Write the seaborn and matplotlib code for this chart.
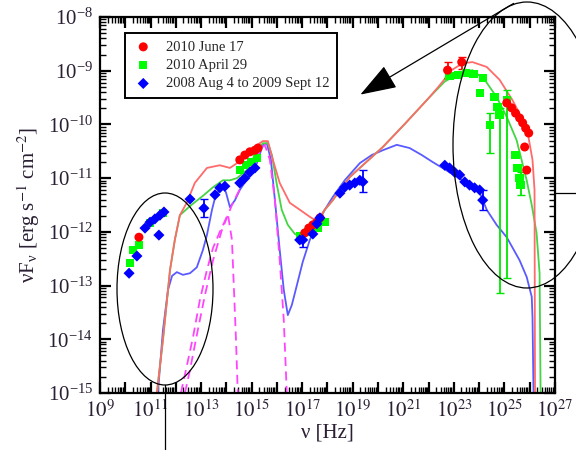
import numpy as np
import pandas as pd
import matplotlib
matplotlib.use("Agg")
import matplotlib.pyplot as plt
import matplotlib.ticker as mticker
from matplotlib.patches import Ellipse, FancyArrowPatch
from matplotlib.lines import Line2D
from matplotlib.transforms import IdentityTransform
import seaborn as sns

# data, in log10(nu [Hz]) and log10(nuFnu [erg/s/cm2])
red_x = [10.54, 14.53, 14.73, 14.93, 15.13, 15.25, 17.10, 17.26, 17.42, 17.58, 17.70,
         22.75, 23.31, 25.09, 25.28, 25.44, 25.60, 25.72, 25.84, 25.96, 25.80, 25.88]
red_y = [-12.10, -10.66, -10.57, -10.51, -10.48, -10.44, -12.02, -11.93, -11.87, -11.82, -11.74,
         -8.99, -8.84, -9.60, -9.69, -9.79, -9.88, -9.97, -10.07, -10.16, -10.42, -10.85]

green_x = [10.19, 10.30, 10.54, 10.98, 11.49, 14.53, 14.77, 15.00, 15.20,
           16.90, 17.22, 17.62, 17.89,
           22.82, 23.15, 23.47, 23.78, 24.14, 24.02, 24.61, 24.73, 24.42, 24.81, 25.09,
           25.44, 25.52, 25.60, 25.64]
green_y = [-12.58, -12.34, -12.25, -11.84, -11.65, -10.85, -10.76, -10.70, -10.63,
           -12.08, -12.00, -11.93, -11.82,
           -9.10, -9.08, -9.04, -9.06, -9.14, -9.42, -9.49, -9.68, -10.01, -9.82, -9.55,
           -10.57, -10.81, -11.00, -11.13]

blue_x = [10.15, 10.46, 10.78, 10.98, 11.17, 11.37, 11.53, 11.33, 12.56, 13.11,
          13.55, 13.74, 13.94, 14.53, 14.73, 14.93, 15.13,
          16.90, 17.02, 17.42, 17.58, 17.70, 18.49, 18.68, 18.88, 19.08, 19.28, 19.40,
          22.64, 22.83, 23.03, 23.23, 23.43, 23.62, 23.82, 24.02, 24.14]
blue_y = [-12.77, -12.45, -11.93, -11.82, -11.76, -11.69, -11.63, -12.06, -11.39, -11.56,
          -11.31, -11.18, -11.15, -11.09, -11.00, -10.89, -10.81,
          -12.15, -12.15, -12.04, -11.85, -11.74, -11.28, -11.17, -11.13, -11.09, -11.04, -11.07,
          -10.76, -10.81, -10.89, -10.94, -11.07, -11.13, -11.18, -11.22, -11.41]

# error bars: x, y, low, high
red_err_x = [22.75, 23.31]
red_err_y = [-8.99, -8.84]
red_err_lo = [-9.14, -8.97]
red_err_hi = [-8.84, -8.75]

green_err_x = [24.42, 24.81, 25.09, 25.64]
green_err_y = [-10.01, -9.82, -9.55, -11.13]
green_err_lo = [-10.53, -13.14, -12.86, -11.31]
green_err_hi = [-9.79, -9.69, -9.36, -10.89]

blue_err_x = [13.11, 19.40, 17.02, 24.14]
blue_err_y = [-11.56, -11.07, -12.15, -11.41]
blue_err_lo = [-11.72, -11.26, -12.28, -11.59]
blue_err_hi = [-11.39, -10.85, -12.02, -11.22]

# model curves
green_cx = [11.25, 11.49, 11.77, 11.96, 12.16, 12.56, 13.07, 13.47, 13.86, 14.14, 14.42, 14.81,
            15.13, 15.44, 15.64, 15.80, 16.00, 16.19, 16.43, 16.71, 16.98, 17.30, 17.58, 17.89,
            18.21, 18.88, 20.19, 21.06, 22.04, 22.64, 23.35, 23.74, 24.22, 24.69, 25.09, 25.48,
            25.88, 26.08, 26.27, 26.39, 26.43]
green_cy = [-15.0, -14.01, -12.71, -12.15, -11.69, -11.52, -11.33, -11.17, -11.04, -11.04, -11.00, -10.85,
            -10.57, -10.35, -10.35, -10.57, -11.13, -11.59, -11.87, -12.04, -12.10, -12.02, -11.84, -11.59,
            -11.41, -10.98, -10.42, -9.99, -9.49, -9.20, -9.02, -8.99, -9.17, -9.49, -9.86, -10.29,
            -11.04, -11.50, -12.02, -12.77, -15.0]

red_cx = [11.25, 11.49, 11.77, 11.96, 12.16, 12.44, 12.75, 13.23, 13.74, 14.14, 14.61, 15.05,
          15.44, 15.64, 15.84, 16.11, 16.51, 16.91, 17.30, 17.58, 17.89, 18.21, 18.88, 20.19,
          21.06, 22.04, 22.44, 22.91, 23.35, 23.74, 24.30, 24.81, 25.32, 25.88, 26.11, 26.19, 26.21]
red_cy = [-15.0, -14.01, -12.71, -12.15, -11.69, -11.45, -11.09, -10.81, -10.76, -10.81, -10.66, -10.44,
          -10.31, -10.31, -10.66, -11.09, -11.46, -11.59, -11.72, -11.80, -11.59, -11.41, -10.98, -10.42,
          -9.99, -9.49, -9.27, -8.99, -8.86, -8.84, -8.93, -9.17, -9.55, -10.05, -10.66, -11.22, -15.0]

blue_cx = [11.29, 11.49, 11.69, 11.85, 12.04, 12.28, 12.56, 12.83, 13.07, 13.23, 13.43, 13.58,
           13.82, 13.98, 14.14, 14.34, 14.53, 14.93, 15.21, 15.44, 15.60, 15.76, 15.92, 16.11,
           16.27, 16.43, 16.59, 16.79, 17.02, 17.30, 17.58, 17.89, 18.21, 18.68, 19.28, 19.75,
           20.19, 20.74, 21.25, 21.73, 22.16, 22.83, 23.43, 24.02, 24.30, 24.69, 25.09, 25.60,
           25.88, 26.08, 26.11, 26.15]
blue_cy = [-15.0, -13.83, -13.08, -12.82, -12.75, -12.80, -12.77, -12.66, -12.34, -12.06, -11.59, -11.31,
           -11.17, -11.26, -11.54, -11.41, -11.22, -10.94, -10.72, -10.38, -10.35, -10.66, -11.41, -12.34,
           -13.08, -13.55, -13.36, -12.99, -12.56, -12.15, -11.87, -11.59, -11.35, -11.04, -10.72, -10.57,
           -10.48, -10.38, -10.44, -10.57, -10.70, -10.89, -11.07, -11.27, -11.59, -11.87, -12.10, -12.53,
           -12.84, -13.21, -13.59, -15.0]

# thermal components (dashed)
torus_x = [12.20, 12.40, 12.68, 12.95, 13.23, 13.47, 13.74, 13.94, 14.06, 14.22, 14.30, 14.38, 14.45]
torus_y = [-15.0, -14.57, -13.96, -13.27, -12.71, -12.30, -12.00, -11.80, -11.67, -12.15, -13.08, -14.01, -15.0]
disk_x = [12.36, 12.56, 12.83, 13.15, 13.47, 13.82, 14.22, 14.61, 15.01, 15.32, 15.52, 15.72,
          15.92, 16.11, 16.27, 16.39]
disk_y = [-15.0, -14.57, -13.92, -13.18, -12.53, -11.97, -11.50, -11.13, -10.76, -10.48, -10.38, -10.66,
          -11.41, -12.53, -13.64, -15.0]

labels = ["2010 June 17", "2010 April 29", "2008 Aug 4 to 2009 Sept 12"]
decades_x = list(range(9, 28))


def lin(v):
    return 10 ** np.asarray(v)


sns.set_style("ticks")
plt.rcParams["font.family"] = ["Liberation Serif", "DejaVu Serif"]
plt.rcParams["mathtext.fontset"] = "stix"

fig = plt.figure(figsize=(5.76, 4.5), dpi=100)
ax = fig.add_axes([100 / 576, 1 - 393 / 450, 455 / 576, 376 / 450])

# model curves
for cx, cy, col in [(blue_cx, blue_cy, "#5a5aff"), (green_cx, green_cy, "#44d444"),
                    (red_cx, red_cy, "#ff6a6a")]:
    sns.lineplot(x=lin(cx), y=lin(cy), sort=False, estimator=None, color=col, lw=1.3, ax=ax,
                 zorder=2)
for cx, cy in [(torus_x, torus_y), (disk_x, disk_y)]:
    ax.plot(lin(cx), lin(cy), color="#ff44ff", lw=1.3, ls=(0, (5, 3)), zorder=2.5)

# error bars
for ex, ey, lo, hi, col in [(red_err_x, red_err_y, red_err_lo, red_err_hi, "#ff0000"),
                            (green_err_x, green_err_y, green_err_lo, green_err_hi, "#00e600"),
                            (blue_err_x, blue_err_y, blue_err_lo, blue_err_hi, "#0000ff")]:
    yv = lin(ey)
    ax.errorbar(lin(ex), yv, yerr=[yv - lin(lo), lin(hi) - yv], fmt="none", ecolor=col,
                elinewidth=1.3, capsize=3, zorder=3)

# data points
sns.scatterplot(x=lin(green_x), y=lin(green_y), marker="s", color="#00ff00", s=36, edgecolor="none",
                label=labels[1], ax=ax, zorder=4)
sns.scatterplot(x=lin(red_x), y=lin(red_y), marker="o", color="#ff0000", s=42, edgecolor="none",
                label=labels[0], ax=ax, zorder=4)
sns.scatterplot(x=lin(blue_x), y=lin(blue_y), marker="D", color="#0000ff", s=32, edgecolor="none",
                label=labels[2], ax=ax, zorder=5)

ax.set_xscale("log")
ax.set_yscale("log")
ax.set_xlim(1e9, 1e27)
ax.set_ylim(1e-15, 1e-8)

ax.xaxis.set_major_locator(mticker.FixedLocator([10.0 ** k for k in decades_x]))
ax.xaxis.set_major_formatter(mticker.FixedFormatter(
    [r"$10^{%d}$" % k if k % 2 == 1 else "" for k in decades_x]))
ax.xaxis.set_minor_locator(mticker.LogLocator(base=10, subs=np.arange(2, 10), numticks=40))
ax.xaxis.set_minor_formatter(mticker.NullFormatter())
ax.yaxis.set_major_locator(mticker.LogLocator(base=10, numticks=20))
ax.yaxis.set_minor_locator(mticker.LogLocator(base=10, subs=np.arange(2, 10), numticks=40))
ax.yaxis.set_minor_formatter(mticker.NullFormatter())

ax.tick_params(which="both", direction="in", top=True, right=True, color="black")
ax.tick_params(which="major", length=8, width=1.6, labelsize=15, pad=5, labelcolor="#2a1f33")
ax.tick_params(which="minor", length=4, width=1.0)
for sp in ax.spines.values():
    sp.set_linewidth(1.6)
    sp.set_color("black")

ax.set_xlabel("ν [Hz]", fontsize=15, color="#2a1f33", labelpad=1)
ax.set_ylabel(r"νF$_{\mathregular{ν}}$ [erg s$^{-1}$ cm$^{-2}$]", fontsize=15, color="#2a1f33",
              labelpad=4)

h, l = ax.get_legend_handles_labels()
order = [l.index(t) for t in labels]
leg = ax.legend([h[i] for i in order], [l[i] for i in order], loc="upper left",
                bbox_to_anchor=(0.055, 0.957), borderaxespad=0, fontsize=10.5, frameon=True,
                fancybox=False, handletextpad=0.8, borderpad=0.5, labelspacing=0.35,
                handlelength=1.5)
leg.get_frame().set_edgecolor("black")
leg.get_frame().set_linewidth(1.4)
leg.get_frame().set_alpha(1)


# hand-drawn annotations on top, given in figure pixels from the top-left corner
def px(x, y):
    return (x, 450 - y)


ident = IdentityTransform()
fig.add_artist(Ellipse(px(165, 289), 96, 192, fill=False, ec="black", lw=0.9, transform=ident))
fig.add_artist(Ellipse(px(527, 145), 148, 286, fill=False, ec="black", lw=0.9, transform=ident))
for (x0, y0), (x1, y1) in [((165, 385), (165, 450)), ((555, 193), (576, 193))]:
    fig.add_artist(Line2D([x0, x1], [450 - y0, 450 - y1], color="black", lw=0.9, transform=ident))
fig.add_artist(FancyArrowPatch(px(516, 2), px(358, 96), transform=ident, color="black", lw=0.9,
                               arrowstyle="-|>,head_length=23,head_width=8", mutation_scale=1))

fig.savefig("out.png", dpi=100)
